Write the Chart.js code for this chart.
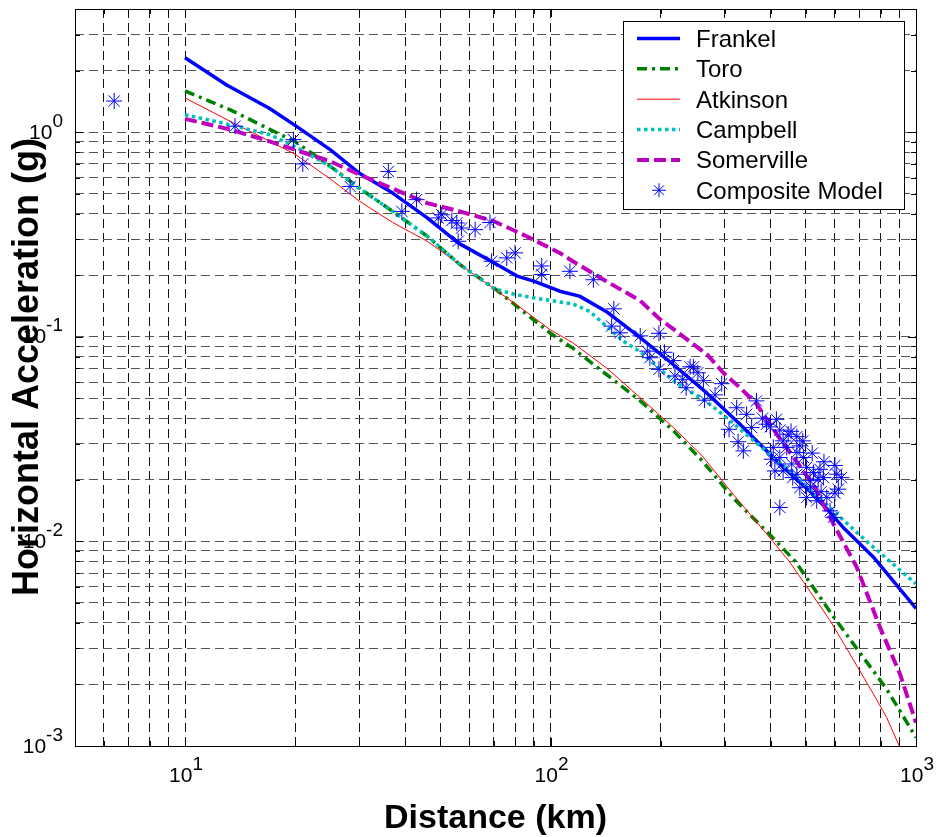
<!DOCTYPE html>
<html>
<head>
<meta charset="utf-8">
<title>Horizontal acceleration vs distance</title>
<script src="https://cdn.jsdelivr.net/npm/chart.js@4.4.1/dist/chart.umd.min.js"></script>
<style>
  html, body { margin: 0; padding: 0; background: #fff; }
  #wrap { width: 939px; height: 837px; position: relative; }
</style>
</head>
<body>
<div id="wrap"><canvas id="chart"></canvas></div>
<script>
// Series names, in legend order
const SERIES_NAMES = ['Frankel', 'Toro', 'Atkinson', 'Campbell', 'Somerville', 'Composite Model'];

// [distance km, acceleration g]
const FRANKEL = [
  [10, 2.31], [13, 1.70], [17, 1.31], [20, 1.08], [25, 0.82], [30, 0.63], [37, 0.504],
  [46, 0.381], [56, 0.287], [70, 0.23], [81, 0.198], [90, 0.187], [106, 0.167], [120, 0.158],
  [142, 0.133], [176, 0.099], [217, 0.073], [268, 0.053], [330, 0.0374], [351, 0.0334],
  [434, 0.0230], [535, 0.0164], [632, 0.0117], [764, 0.0084], [1000, 0.0047]
];
const TORO = [
  [10, 1.59], [13.3, 1.286], [17.1, 1.03], [20, 0.90], [25, 0.68], [30, 0.533], [37, 0.41],
  [46, 0.31], [56.5, 0.2255], [70, 0.1734], [86, 0.129], [100, 0.104], [115, 0.088],
  [142, 0.0656], [176, 0.0486], [217, 0.0347], [260, 0.0248], [316, 0.0163], [400, 0.0107],
  [467, 0.0080], [594, 0.0043], [688, 0.0030], [831, 0.0019], [1000, 0.0011]
];
const ATKINSON = [
  [10, 1.47], [13.3, 1.13], [17.1, 0.90], [20, 0.78], [25, 0.59], [30, 0.46], [37, 0.362],
  [46, 0.293], [56.5, 0.2255], [70, 0.172], [86, 0.132], [100, 0.108], [115, 0.0935],
  [142, 0.0706], [176, 0.0504], [217, 0.036], [260, 0.0262], [316, 0.0170], [390, 0.0109],
  [452, 0.0079], [582, 0.0041], [646, 0.0030], [764, 0.0018], [831, 0.00138], [900, 0.0010],
  [910, 0.00094]
];
const CAMPBELL = [
  [10, 1.216], [13.3, 1.087], [17.1, 0.971], [20, 0.85], [25, 0.68], [29, 0.554], [37, 0.41],
  [46, 0.31], [56.5, 0.2255], [70, 0.172], [80, 0.161], [92, 0.154], [106, 0.148], [115, 0.145],
  [128, 0.133], [142, 0.113], [158, 0.0953], [176, 0.0845], [217, 0.0608], [270, 0.0475],
  [303, 0.0403], [351, 0.0322], [452, 0.0221], [594, 0.0141], [733, 0.0100], [1000, 0.0062]
];
const SOMERVILLE = [
  [10, 1.162], [13.3, 1.03], [17.1, 0.90], [20, 0.82], [25, 0.72], [30, 0.62], [37, 0.53],
  [46, 0.45], [56.5, 0.41], [70, 0.367], [86, 0.31], [106, 0.257], [115, 0.234], [142, 0.187],
  [176, 0.150], [199, 0.122], [217, 0.109], [268, 0.082], [297, 0.0667], [330, 0.0564],
  [366, 0.047], [416, 0.0334], [523, 0.019], [594, 0.0122], [688, 0.0075], [797, 0.0038],
  [904, 0.00225], [1000, 0.0013]
];
const COMPOSITE = [
  [6.4, 1.42], [13.7, 1.07], [19.8, 0.92], [21, 0.70], [28.3, 0.543], [36, 0.643], [39.2, 0.41],
  [43, 0.468], [49.3, 0.381], [50.4, 0.395], [53.7, 0.37], [55.4, 0.36], [57.1, 0.34],
  [62.2, 0.334], [55.9, 0.293], [68.3, 0.362], [69, 0.234], [75.9, 0.243], [80, 0.257],
  [94.6, 0.222], [94.6, 0.2015], [113, 0.209], [131, 0.19], [149, 0.137], [147, 0.1128],
  [155, 0.1046], [176, 0.101], [198, 0.104], [184, 0.0851], [187, 0.079], [198, 0.0693],
  [217, 0.0765], [219, 0.0643], [235, 0.0564], [241, 0.0713], [246, 0.0713], [253, 0.0667],
  [264, 0.049], [282, 0.052], [294, 0.059], [323, 0.045], [308, 0.0353], [326, 0.0307],
  [337, 0.0277], [355, 0.036], [344, 0.0418], [366, 0.0486], [390, 0.0374], [399, 0.0363],
  [424, 0.035], [433, 0.031], [472, 0.0325], [407, 0.0288], [424, 0.0257], [433, 0.0221],
  [472, 0.0272], [492, 0.0257], [502, 0.023], [524, 0.0217], [546, 0.0225], [558, 0.0205],
  [607, 0.0213], [613, 0.018], [481, 0.0183], [502, 0.0164], [535, 0.0158], [570, 0.0164],
  [582, 0.0141], [594, 0.0131], [424, 0.01465], [472, 0.0213], [447, 0.0334], [443, 0.0288],
  [481, 0.0293], [403, 0.0252], [457, 0.0239], [411, 0.0221], [540, 0.0201], [513, 0.0198],
  [380, 0.040], [415, 0.0395], [455, 0.0345], [490, 0.031], [520, 0.027], [560, 0.0245],
  [600, 0.0235], [625, 0.0205], [515, 0.0185], [550, 0.0175], [460, 0.0205], [600, 0.0172],
  [230, 0.062], [262, 0.061], [205, 0.084]
];

// grid / tick positions
const X_GRID = [5, 6, 7, 8, 9, 10, 20, 30, 40, 50, 60, 70, 80, 90, 100,
  200, 300, 400, 500, 600, 700, 800, 900, 1000];
const Y_GRID = [0.001, 0.002, 0.003, 0.004, 0.005, 0.006, 0.007, 0.008, 0.009,
  0.01, 0.02, 0.03, 0.04, 0.05, 0.06, 0.07, 0.08, 0.09,
  0.1, 0.2, 0.3, 0.4, 0.5, 0.6, 0.7, 0.8, 0.9, 1, 2, 3, 4];
const X_LABEL_EXP = [1, 2, 3];
const Y_LABEL_EXP = [0, -1, -2, -3];

const X_TITLE = 'Distance (km)';
const Y_TITLE = 'Horizontal Acceleration (g)';

const FONT = '"Liberation Sans", Arial, Helvetica, sans-serif';

const toPts = arr => arr.map(([x, y]) => ({ x, y }));

const lineBase = { showLine: true, pointRadius: 0, pointHoverRadius: 0, tension: 0,
  borderJoinStyle: 'round', borderCapStyle: 'butt', fill: false };

const datasets = [
  Object.assign({ label: SERIES_NAMES[0], data: toPts(FRANKEL), borderColor: '#0000ff', borderWidth: 3.5, order: 5 }, lineBase),
  Object.assign({ label: SERIES_NAMES[1], data: toPts(TORO), borderColor: '#008000', borderWidth: 3.5, borderDash: [10, 5, 3, 5], order: 4 }, lineBase),
  Object.assign({ label: SERIES_NAMES[2], data: toPts(ATKINSON), borderColor: '#ff0000', borderWidth: 1, order: 3 }, lineBase),
  Object.assign({ label: SERIES_NAMES[3], data: toPts(CAMPBELL), borderColor: '#00bfbf', borderWidth: 3.5, borderDash: [3.5, 3.5], order: 2 }, lineBase),
  Object.assign({ label: SERIES_NAMES[4], data: toPts(SOMERVILLE), borderColor: '#bf00bf', borderWidth: 4, borderDash: [12, 5], order: 1 }, lineBase),
  {
    label: SERIES_NAMES[5], data: toPts(COMPOSITE), showLine: false, order: 0,
    pointStyle: 'star', pointRadius: 8, pointHoverRadius: 8, pointBorderWidth: 1,
    pointBorderColor: '#0000ff', pointBackgroundColor: '#0000ff', borderColor: '#0000ff'
  }
];

const isPow10 = v => Math.abs(Math.log10(v) - Math.round(Math.log10(v))) < 1e-9;

// frame, inward ticks, power-of-ten labels, axis titles and the boxed legend
const decorPlugin = {
  id: 'decor',
  afterDraw(chart) {
    const ctx = chart.ctx;
    const { left, right, top, bottom } = chart.chartArea;
    const xs = chart.scales.x, ys = chart.scales.y;
    ctx.save();
    ctx.setLineDash([]);
    ctx.strokeStyle = '#000';
    ctx.lineWidth = 1;

    // inward tick marks
    ctx.beginPath();
    X_GRID.forEach(v => {
      const px = Math.round(xs.getPixelForValue(v)) + 0.5;
      const len = isPow10(v) ? 8 : 5;
      ctx.moveTo(px, bottom); ctx.lineTo(px, bottom - len);
      ctx.moveTo(px, top); ctx.lineTo(px, top + len);
    });
    Y_GRID.forEach(v => {
      const py = Math.round(ys.getPixelForValue(v)) + 0.5;
      const len = isPow10(v) ? 8 : 5;
      ctx.moveTo(left, py); ctx.lineTo(left + len, py);
      ctx.moveTo(right, py); ctx.lineTo(right - len, py);
    });
    ctx.stroke();

    // axes box
    ctx.strokeRect(Math.round(left) + 0.5, Math.round(top) + 0.5,
      Math.round(right - left), Math.round(bottom - top));

    // tick labels: 10 with raised exponent
    ctx.fillStyle = '#000';
    ctx.textBaseline = 'alphabetic';
    const baseFont = '21px ' + FONT, expFont = '19px ' + FONT;
    Y_LABEL_EXP.forEach(e => {
      const py = ys.getPixelForValue(Math.pow(10, e));
      ctx.font = expFont;
      const et = String(e);
      const ew = ctx.measureText(et).width;
      ctx.textAlign = 'right';
      ctx.fillText(et, 63, py - 5.5);
      ctx.font = baseFont;
      ctx.fillText('10', 63 - ew, py + 6.5);
    });
    X_LABEL_EXP.forEach(e => {
      const px = xs.getPixelForValue(Math.pow(10, e));
      const et = String(e);
      ctx.font = baseFont;
      const bw = ctx.measureText('10').width;
      ctx.font = expFont;
      const ew = ctx.measureText(et).width;
      const x0 = px + 1 - (bw + ew) / 2;
      ctx.textAlign = 'left';
      ctx.font = baseFont;
      ctx.fillText('10', x0, 782);
      ctx.font = expFont;
      ctx.fillText(et, x0 + bw, 770);
    });

    // axis titles
    ctx.font = 'bold 34px ' + FONT;
    ctx.textAlign = 'center';
    ctx.fillText(X_TITLE, (left + right) / 2, 828);
    ctx.save();
    ctx.translate(38, 367);
    ctx.rotate(-Math.PI / 2);
    ctx.font = 'bold 36px ' + FONT;
    ctx.fillText(Y_TITLE, 0, 0);
    ctx.restore();

    // legend box
    const lx0 = 623, ly0 = 21, lx1 = 904, ly1 = 209;
    ctx.fillStyle = '#fff';
    ctx.fillRect(lx0, ly0, lx1 - lx0, ly1 - ly0);
    ctx.strokeStyle = '#000';
    ctx.lineWidth = 1;
    ctx.strokeRect(lx0 + 0.5, ly0 + 0.5, lx1 - lx0, ly1 - ly0);
    SERIES_NAMES.forEach((name, i) => {
      const ds = chart.data.datasets.find(d => d.label === name);
      const rowY = 38.5 + i * 30.35;
      ctx.save();
      if (ds.showLine) {
        ctx.setLineDash(ds.borderDash || []);
        ctx.strokeStyle = ds.borderColor;
        ctx.lineWidth = ds.borderWidth;
        ctx.lineCap = 'butt';
        ctx.beginPath();
        ctx.moveTo(637, rowY);
        ctx.lineTo(680, rowY);
        ctx.stroke();
      } else {
        ctx.setLineDash([]);
        ctx.strokeStyle = ds.pointBorderColor;
        ctx.fillStyle = ds.pointBackgroundColor;
        ctx.lineWidth = 1;
        Chart.helpers.drawPoint(ctx, { pointStyle: 'star', radius: 7, rotation: 0, borderWidth: 1 }, 659, rowY);
      }
      ctx.restore();
      ctx.fillStyle = '#000';
      ctx.font = '24px ' + FONT;
      ctx.textAlign = 'left';
      ctx.fillText(name, 696, rowY + 8.5);
    });
    ctx.restore();
  }
};

new Chart(document.getElementById('chart'), {
  type: 'scatter',
  data: { datasets },
  plugins: [decorPlugin],
  options: {
    responsive: true,
    maintainAspectRatio: false,
    animation: false,
    layout: { padding: { left: 0, top: 7, right: 23, bottom: 0 } },
    plugins: {
      legend: { display: false },
      tooltip: { enabled: false }
    },
    scales: {
      x: {
        type: 'logarithmic', min: 5, max: 1000,
        afterBuildTicks: s => { s.ticks = X_GRID.map(v => ({ value: v, major: isPow10(v) })); },
        afterFit: s => { s.height = 91; },
        ticks: { display: false },
        grid: { color: '#111', lineWidth: 1, drawTicks: false },
        border: { display: false, dash: [9, 5] }
      },
      y: {
        type: 'logarithmic', min: 0.001, max: 4,
        afterBuildTicks: s => { s.ticks = Y_GRID.map(v => ({ value: v, major: isPow10(v) })); },
        afterFit: s => { s.width = 75; },
        ticks: { display: false },
        grid: { color: '#555', lineWidth: 1, drawTicks: false },
        border: { display: false, dash: [9, 5] }
      }
    }
  }
});
</script>
</body>
</html>
